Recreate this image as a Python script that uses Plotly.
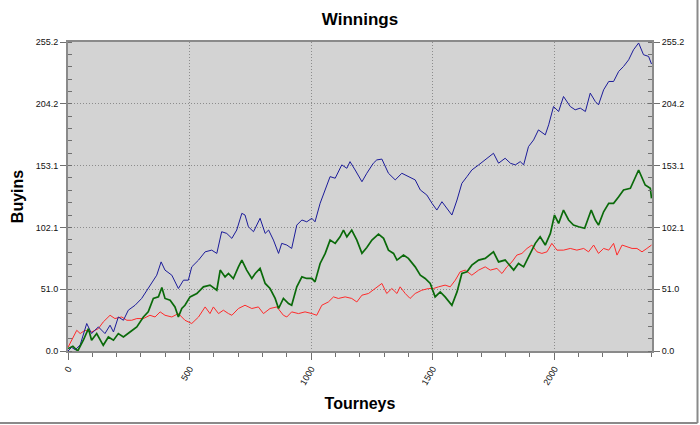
import plotly.graph_objects as go

# ---- data ----
blue_x = [0, 15, 30, 50, 77, 97, 125, 152, 173, 187, 207, 228, 248, 276, 303, 324, 351, 365, 383, 399,
          427, 454, 475, 495, 509, 537, 564, 591, 612, 632, 653, 674, 694, 715, 728, 742, 763, 790, 811, 825,
          845, 866, 879, 900, 920, 941, 962, 982, 1003, 1016, 1037, 1058, 1078, 1099, 1126, 1147, 1160, 1181, 1209, 1229,
          1256, 1270, 1291, 1318, 1346, 1373, 1400, 1428, 1449, 1476, 1497, 1517, 1538, 1558, 1579, 1600, 1620, 1641, 1661, 1689,
          1716, 1750, 1771, 1798, 1820, 1840, 1860, 1874, 1894, 1915, 1935, 1963, 1977, 1997, 2018, 2038, 2066, 2086, 2107, 2128,
          2148, 2169, 2182, 2203, 2224, 2244, 2265, 2285, 2306, 2326, 2347, 2367, 2388, 2400]
blue_y = [0, 3, 1, 5, 22.7, 14.4, 19.9, 14.4, 21.3, 15.7, 28.1, 25.4, 33.7, 37.8, 43.4, 50.2, 58.5, 62.6, 73.6, 66.8,
          62.6, 51.6, 58.5, 58.5, 69.5, 75.1, 81.9, 83.3, 80.6, 98.5, 97.1, 93.0, 99.9, 113.7, 112.3, 102.6, 98.5, 109.6, 97.1, 99.9,
          91.6, 80.6, 88.9, 87.5, 84.7, 104.0, 108.2, 106.7, 109.6, 106.7, 122.0, 133.0, 144.0, 142.7, 153.7, 150.9, 156.4, 149.5, 139.8, 146.8,
          155.1, 157.8, 158.5, 146.8, 141.3, 146.8, 144.0, 141.3, 133.0, 128.8, 122.0, 116.4, 123.3, 117.8, 112.3, 124.7, 138.5, 144.0, 149.5, 153.7,
          157.8, 163.3, 155.1, 159.2, 155.0, 153.7, 156.4, 153.7, 168.8, 174.3, 182.6, 178.5, 186.8, 201.9, 197.8, 210.2, 201.9, 199.2, 200.6, 197.8,
          213.0, 206.0, 203.3, 215.7, 222.6, 222.6, 230.9, 235.0, 240.5, 248.8, 254.4, 244.7, 243.3, 237.0]

green_x = [0, 20, 40, 63, 84, 97, 118, 145, 166, 187, 207, 228, 255, 283, 310, 330, 351, 372, 386, 399,
           420, 440, 454, 468, 481, 502, 530, 557, 584, 612, 626, 646, 660, 680, 701, 715, 735, 756, 770, 790,
           811, 831, 852, 866, 886, 907, 920, 941, 962, 982, 1003, 1016, 1037, 1058, 1078, 1099, 1119, 1133, 1147, 1167,
           1188, 1209, 1229, 1250, 1277, 1298, 1318, 1339, 1353, 1380, 1400, 1428, 1449, 1469, 1490, 1510, 1531, 1551, 1579, 1600,
           1620, 1641, 1661, 1689, 1716, 1750, 1771, 1798, 1833, 1853, 1874, 1901, 1922, 1942, 1963, 1984, 2001, 2018, 2038, 2059,
           2079, 2100, 2125, 2152, 2169, 2182, 2203, 2224, 2244, 2265, 2285, 2313, 2333, 2347, 2374, 2395, 2400]
green_y = [2, 4, 0, 8.9, 18.5, 8.9, 14.4, 4.7, 11.6, 8.9, 14.4, 11.6, 15.7, 19.9, 28.1, 32.3, 43.4, 44.7, 52.5, 43.4,
           42.0, 36.4, 28.1, 35.1, 37.8, 44.7, 47.5, 53.0, 54.4, 50.2, 66.8, 61.2, 64.0, 59.9, 69.5, 75.1, 66.8, 59.9, 64.0, 68.2,
           55.8, 51.6, 43.4, 35.1, 43.4, 39.2, 37.8, 53.0, 61.2, 59.9, 59.9, 57.1, 72.3, 80.6, 91.6, 88.9, 94.3, 99.9, 94.3, 99.9,
           91.6, 80.6, 85.5, 91.6, 96.5, 93.0, 83.3, 80.6, 75.1, 79.2, 76.5, 69.5, 62.6, 59.9, 55.8, 44.7, 48.8, 44.7, 37.8, 48.8,
           64.0, 65.4, 70.9, 75.1, 76.5, 81.9, 73.6, 75.1, 66.8, 72.3, 69.5, 80.6, 88.9, 94.3, 87.5, 97.1, 112.3, 105.4, 116.4, 108.2,
           104.0, 102.6, 101.3, 116.4, 108.2, 104.0, 115.0, 122.0, 122.0, 127.4, 133.0, 134.4, 144.0, 149.5, 137.1, 134.4, 126.1]

red_x = [0, 15, 36, 50, 70, 97, 125, 145, 173, 193, 221, 242, 262, 283, 310, 337, 358, 379, 399, 427,
         454, 481, 509, 537, 564, 584, 598, 619, 639, 660, 674, 701, 728, 756, 783, 804, 831, 859, 886, 900,
         920, 948, 975, 1003, 1023, 1044, 1071, 1092, 1112, 1140, 1167, 1188, 1209, 1236, 1270, 1291, 1311, 1332, 1353, 1366,
         1387, 1407, 1428, 1455, 1483, 1503, 1524, 1551, 1572, 1593, 1613, 1634, 1661, 1689, 1716, 1737, 1764, 1785, 1805, 1826,
         1846, 1867, 1888, 1908, 1929, 1949, 1970, 1990, 2011, 2038, 2066, 2093, 2121, 2141, 2162, 2182, 2203, 2224, 2244, 2258,
         2279, 2299, 2320, 2340, 2361, 2381, 2400]
red_y = [3, 8.9, 17.1, 14.4, 17.1, 15.7, 18.5, 24.0, 29.5, 26.8, 28.1, 25.4, 25.4, 26.8, 26.8, 29.5, 28.1, 32.3, 29.5, 28.1,
         30.9, 25.4, 22.7, 28.1, 36.4, 30.9, 36.4, 30.9, 33.7, 30.9, 29.5, 35.1, 37.8, 35.1, 36.4, 30.9, 35.1, 36.4, 29.5, 28.1,
         32.3, 30.9, 32.3, 30.9, 29.5, 37.8, 40.5, 44.7, 43.4, 44.7, 43.4, 40.5, 46.1, 47.5, 53.0, 55.8, 47.5, 51.6, 47.5, 53.0,
         47.5, 43.4, 47.5, 50.2, 51.6, 51.6, 53.0, 54.4, 53.0, 58.5, 65.4, 66.8, 62.6, 66.8, 69.5, 66.8, 68.2, 64.0, 69.5, 73.6,
         79.2, 80.6, 84.7, 87.5, 81.9, 80.6, 81.9, 88.9, 83.3, 83.3, 84.7, 83.3, 84.7, 81.9, 87.5, 80.6, 84.7, 83.3, 88.9, 79.2,
         87.5, 86.1, 84.7, 84.7, 81.9, 84.7, 87.5]

y_tick_vals = [0, 51.04, 102.08, 153.12, 204.16, 255.2]
y_tick_text = ["0.0", "51.0", "102.1", "153.1", "204.2", "255.2"]
x_tick_vals = [0, 500, 1000, 1500, 2000]

fig = go.Figure()
fig.add_trace(go.Scatter(x=red_x, y=red_y, mode="lines", line=dict(color="#ff2a2a", width=1), showlegend=False))
fig.add_trace(go.Scatter(x=blue_x, y=blue_y, mode="lines", line=dict(color="#1c1c9a", width=1), showlegend=False))
fig.add_trace(go.Scatter(x=green_x, y=green_y, mode="lines", line=dict(color="#0a6a0a", width=1.7), showlegend=False))
# invisible trace to activate the right-hand axis
fig.add_trace(go.Scatter(x=[0], y=[0], yaxis="y2", mode="markers", marker=dict(opacity=0), showlegend=False, hoverinfo="skip"))

FONT = "Liberation Sans, Arial, sans-serif"
axis_font = dict(family=FONT, size=9, color="#111111")
yaxis_common = dict(
    range=[0, 255.2], tickmode="array", tickvals=y_tick_vals, ticktext=y_tick_text,
    ticks="outside", ticklen=6, tickcolor="#707070", tickwidth=1,
    showline=True, linecolor="#8a8a8a", linewidth=2,
    tickfont=axis_font, zeroline=False, automargin=False,
    minor=dict(tickmode="linear", tick0=0, dtick=10.208, ticks="inside", ticklen=4, tickcolor="#707070", showgrid=False),
)

fig.update_layout(
    width=700, height=425,
    margin=dict(l=68, r=48, t=42, b=74, autoexpand=False),
    paper_bgcolor="white", plot_bgcolor="#d3d3d3",
    title=dict(text="<b>Winnings</b>", x=0.5, xanchor="center", xref="paper", y=1 - 19 / 425, yanchor="middle",
               font=dict(family=FONT, size=17, color="black")),
    xaxis=dict(
        range=[0, 2402], tickmode="array", tickvals=x_tick_vals, tickangle=-60,
        ticks="outside", ticklen=7, tickcolor="#707070", tickwidth=1,
        showline=True, linecolor="#8a8a8a", linewidth=2, mirror=True,
        showgrid=True, gridcolor="#8c8c8c", griddash="1px,2px", gridwidth=1,
        tickfont=axis_font, zeroline=False, automargin=False,
        minor=dict(tickmode="linear", tick0=0, dtick=100, ticks="outside", ticklen=4, tickcolor="#707070", showgrid=False),
        title=dict(text="<b>Tourneys</b>", standoff=12,
                   font=dict(family=FONT, size=16, color="black")),
    ),
    yaxis=dict(
        **yaxis_common,
        showgrid=True, gridcolor="#8c8c8c", griddash="1px,2px", gridwidth=1,
        title=dict(text="<b>Buyins</b>", standoff=8,
                   font=dict(family=FONT, size=16, color="black")),
    ),
    yaxis2=dict(
        **yaxis_common,
        overlaying="y", side="right", showgrid=False,
    ),
    shapes=[
        dict(type="line", xref="paper", yref="paper", x0=-0.2, x1=(697.5 - 68) / 584, y0=-(423 - 351) / 309, y1=-(423 - 351) / 309,
             line=dict(color="#8a8a8a", width=2)),
        dict(type="line", xref="paper", yref="paper", x0=(697.5 - 68) / 584, x1=(697.5 - 68) / 584, y0=-(423 - 351) / 309, y1=1.2,
             line=dict(color="#8a8a8a", width=2)),
    ],
)

fig.write_html("out.html", config={"displayModeBar": False},
               post_script="document.body.style.margin='0';document.body.style.overflow='hidden';")
